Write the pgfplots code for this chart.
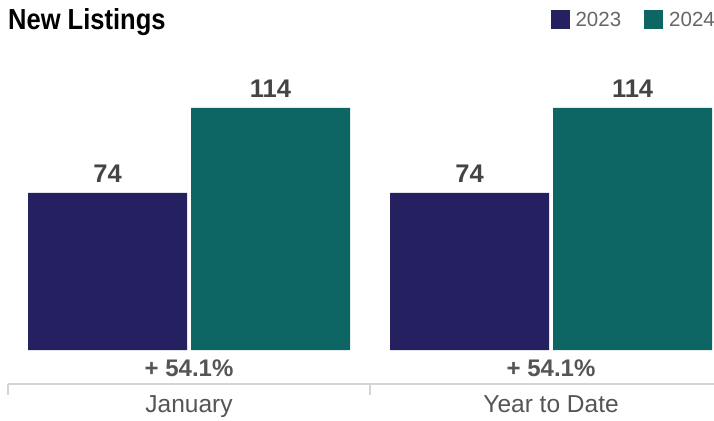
\documentclass[border=0pt]{standalone}
\usepackage{fontspec}
\setmainfont{Liberation Sans}
\newfontfamily\titlefont{Liberation Sans}[FakeStretch=0.88]
\usepackage{pgfplots}
\pgfplotsset{compat=1.18}
\definecolor{c23}{RGB}{37,32,96}
\definecolor{c24}{RGB}{13,101,100}
\definecolor{numgray}{RGB}{68,68,68}
\definecolor{labgray}{RGB}{85,85,85}
\definecolor{leggray}{RGB}{102,102,102}
\definecolor{linegray}{RGB}{212,212,212}
\begin{document}
\begin{tikzpicture}
\useasboundingbox (0pt,0pt) rectangle (714pt,420pt);
\begin{axis}[
  at={(8pt,36pt)}, anchor=south west,
  scale only axis, width=706pt, height=334pt,
  xmin=-0.5, xmax=1.45, ymin=-16, ymax=141.3,
  /pgf/number format/assume math mode=true,
  ybar=4pt, bar width=159pt,
  axis y line=none, axis x line*=bottom,
  x axis line style={linegray, line width=1.5pt},
  xtick={0,1}, xticklabels={January, Year to Date},
  major x tick style={draw=none},
  minor xtick={-0.5,0.5}, minor tick length=11pt, tick align=outside,
  minor x tick style={linegray, line width=1.5pt},
  ytick=\empty,
  xticklabel style={font=\fontsize{24.5}{24.5}\selectfont, text=labgray, yshift=-4pt},
  nodes near coords,
  every node near coord/.append style={font=\bfseries\fontsize{25.5}{25.5}\selectfont, text=numgray, yshift=7pt},
  legend columns=2,
  legend style={at={(1,1)}, anchor=east, xshift=7pt, yshift=30pt, draw=none, inner sep=0pt,
    font=\fontsize{20.5}{20.5}\selectfont, text=leggray,
    /tikz/every even column/.append style={column sep=17pt},
    nodes={inner xsep=6pt}},
  legend image code/.code={\fill[#1] (0pt,-9.5pt) rectangle (19pt,9.5pt);},
]
\addplot[fill=c23, draw=none] coordinates {(0,74) (1,74)};
\addplot[fill=c24, draw=none] coordinates {(0,114) (1,114)};
\legend{2023, 2024}
\node[font=\bfseries\fontsize{24}{24}\selectfont, text=labgray] at (axis cs:0,-8.8) {+ 54.1\%};
\node[font=\bfseries\fontsize{24}{24}\selectfont, text=labgray] at (axis cs:1,-8.8) {+ 54.1\%};
\end{axis}
\node[anchor=base west, inner sep=0pt, font=\titlefont\bfseries\fontsize{29}{29}\selectfont] at (8pt,390pt) {New Listings};
\end{tikzpicture}
\end{document}
